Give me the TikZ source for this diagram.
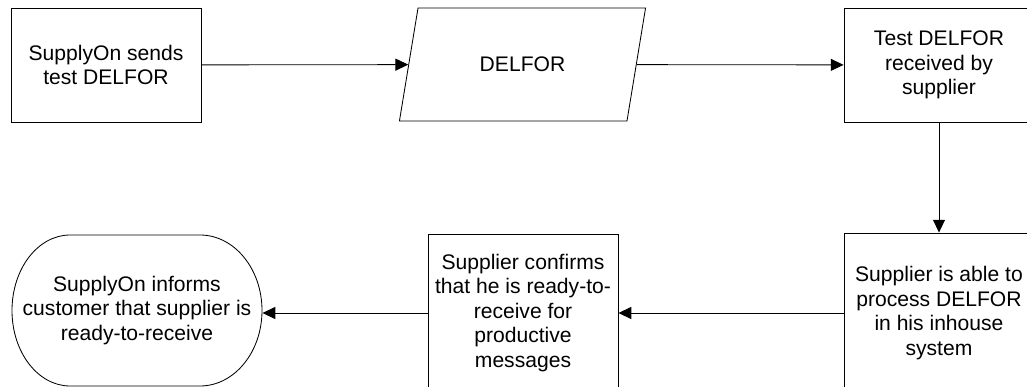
\documentclass[tikz,border=0pt]{standalone}
\usepackage{fontspec}
\setmainfont{Liberation Sans}
\usetikzlibrary{arrows.meta,shapes.geometric}

\tikzset{
  flowbox/.style={draw,rectangle,align=center,inner sep=2pt,minimum width=4.75cm},
  flowline/.style={-{Triangle[length=0.32cm,width=0.3cm]}},
}

\begin{document}
\begin{tikzpicture}[x=0.025cm,y=-0.025cm,line width=0.6pt,
  every node/.append style={font=\fontsize{15}{17.4}\selectfont}]
\useasboundingbox (0,0) rectangle (1027,387);
\clip (0,0) rectangle (1027,387);

% top row
\node (send) [flowbox,minimum height=2.85cm] at (106,65) {SupplyOn sends\\test DELFOR};
\node (delfor) [draw,trapezium,trapezium left angle=63,trapezium right angle=117,
  trapezium stretches=true,minimum width=6.175cm,minimum height=2.825cm,inner sep=0pt] at (522.5,64.5) {DELFOR};
\node (recv) [flowbox,minimum height=2.85cm] at (939,65) {Test DELFOR\\received by\\supplier};

% bottom row
\node (able) [flowbox,minimum height=4cm] at (939,313) {Supplier is able to\\process DELFOR\\in his inhouse\\system};
\node (confirm) [flowbox,minimum height=3.95cm] at (523,313) {Supplier confirms\\that he is ready-to-\\receive for\\productive\\messages};
\node (inform) [rectangle,minimum width=6.25cm,minimum height=3.775cm,inner sep=0pt,align=center] at (137,310.5)
  {SupplyOn informs\\customer that supplier is\\ready-to-receive};
\draw (70,235) -- (200,235) arc[start angle=-90,end angle=90,x radius=62,y radius=75.5]
  -- (70,386) arc[start angle=90,end angle=270,x radius=58,y radius=75.5] -- cycle; % terminator

\draw [flowline] (send) -- (delfor);
\draw [flowline] (delfor) -- (recv);
\draw [flowline] (recv) -- (able);
\draw [flowline] (able) -- (confirm);
\draw [flowline] (confirm) -- (confirm -| inform.east);

\end{tikzpicture}
\end{document}
